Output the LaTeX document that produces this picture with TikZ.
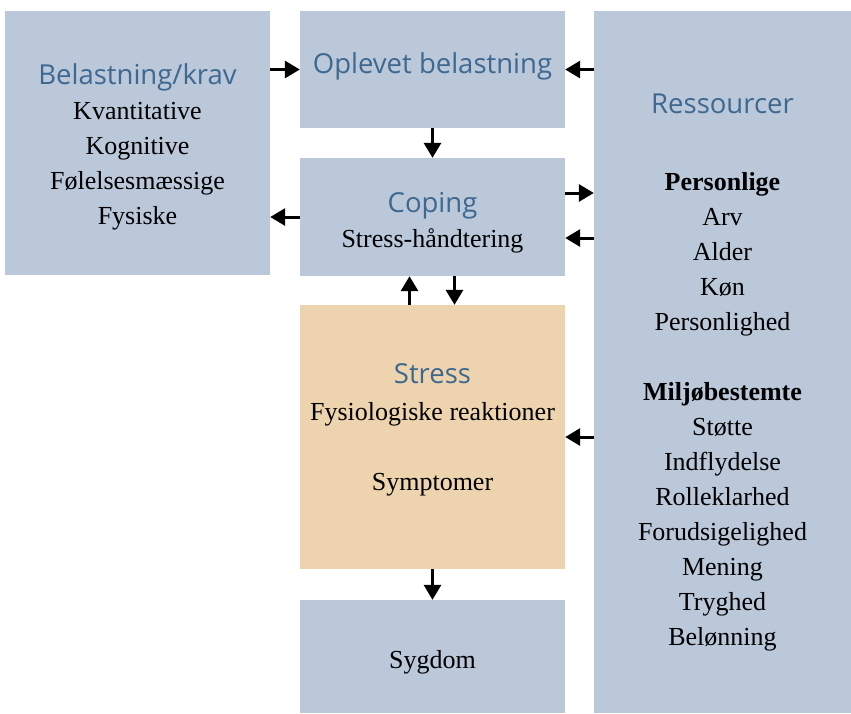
\documentclass[tikz,border=0pt]{standalone}
\usepackage{fontspec}
\setmainfont{Liberation Serif}
\newfontfamily\headfont{Open Sans}
\usetikzlibrary{arrows.meta}
\definecolor{boxblue}{HTML}{BAC8DA}
\definecolor{boxtan}{HTML}{EED4AE}
\definecolor{headblue}{HTML}{3F6890}

\begin{document}
\begin{tikzpicture}[x=1pt, y=-1pt, % koordinater i punkter, y nedad
    box/.style={fill=boxblue, inner sep=0pt, minimum width=265pt},
    txt/.style={align=center, font=\fontsize{26}{35}\selectfont},
    arr/.style={line width=3pt, -{Triangle[length=15pt,width=17pt]}}]
  \newcommand\head[1]{{\headfont\fontsize{27.5}{35}\selectfont\color{headblue}#1}}
  \useasboundingbox (0,0) rectangle (851,713);
  % kasserne
  \node[box, minimum height=264pt] (belast) at (137.5,143) {};
  \node[box, minimum height=117pt] (oplevet) at (432.5,69.5) {};
  \node[box, minimum height=118pt] (coping) at (432.5,217) {};
  \node[box, fill=boxtan, minimum height=264pt] (stress) at (432.5,437) {};
  \node[box, minimum height=113pt] (sygdom) at (432.5,656.5) {};
  \node[box, minimum width=257pt, minimum height=702pt] (ress) at (722.5,362) {};
  % tekster
  \node[txt] (belast-txt) at (137.5,147)
    {\head{Belastning/krav}\\Kvantitative\\Kognitive\\Følelsesmæssige\\Fysiske};
  \node[txt] (oplevet-txt) at (432.5,66) {\head{Oplevet belastning}};
  \node[txt] (coping-txt) at (432.5,223) {\head{Coping}\\Stress-håndtering};
  \node[txt] (stress-txt) at (432.5,430)
    {\head{Stress}\\[2pt]Fysiologiske reaktioner\\[35pt]Symptomer};
  \node[txt] (sygdom-txt) at (432.5,662) {Sygdom};
  \node[txt] (ress-txt) at (722.5,372)
    {\head{Ressourcer}\\[42pt]\textbf{Personlige}\\Arv\\Alder\\Køn\\Personlighed\\[35pt]
     \textbf{Miljøbestemte}\\Støtte\\Indflydelse\\Rolleklarhed\\Forudsigelighed\\Mening\\Tryghed\\Belønning};
  % pile
  \draw[arr] (belast.east |- oplevet) -- (oplevet.west);
  \draw[arr] (oplevet.south) -- (coping.north);
  \draw[arr] (coping.west) -- (belast.east |- coping.west);
  \draw[arr] ([yshift=24pt]coping.east) coordinate (c-ud) -- (c-ud -| ress.west);
  \coordinate (c-ind) at ([yshift=-21pt]coping.east);
  \draw[arr] (c-ind -| ress.west) -- (c-ind);
  \foreach \n in {oplevet, stress} {\draw[arr] (ress.west |- \n) -- (\n.east);}
  \draw[arr] ([xshift=-23pt]stress.north) coordinate (s-op) -- (s-op |- coping.south);
  \draw[arr] ([xshift=22pt]coping.south) coordinate (s-ned) -- (s-ned |- stress.north);
  \draw[arr] (stress.south) -- (sygdom.north);
\end{tikzpicture}
\end{document}
